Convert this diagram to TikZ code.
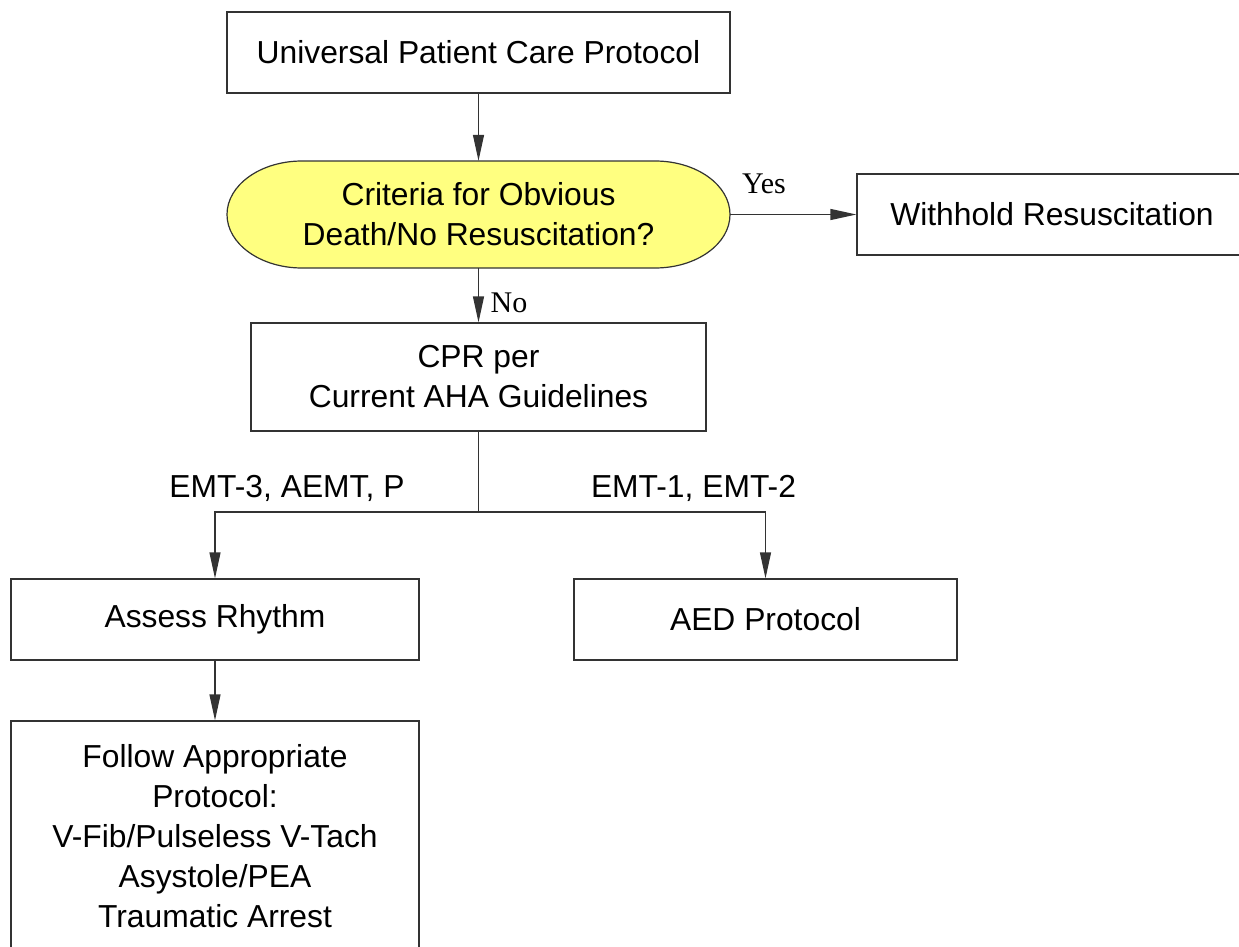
\documentclass[tikz,border=0pt]{standalone}
\usepackage{fontspec}
\setmainfont{Liberation Sans}
\newfontfamily\labelserif{Liberation Serif}
\usetikzlibrary{arrows.meta,backgrounds}

\definecolor{lineclr}{HTML}{333333}
\definecolor{decisionfill}{HTML}{FFFF80}

\tikzset{
  procbox/.style={draw=lineclr, line width=1.2pt, inner sep=0pt,
    align=center, font=\fontsize{31.8}{40}\selectfont},
  flow/.style={draw=lineclr, line width=1.2pt,
    -{Triangle[length=26pt,width=11pt]}},
  plainline/.style={draw=lineclr, line width=1.2pt},
  branchlabel/.style={anchor=base, inner sep=0pt,
    font=\fontsize{31.8}{40}\selectfont},
  answer/.style={anchor=base, inner sep=0pt,
    font=\labelserif\fontsize{30}{34}\selectfont},
}

\begin{document}
\begin{tikzpicture}[x=1pt, y=-1pt]
  \useasboundingbox (0,0) rectangle (1239,947);
  \clip (0,0) rectangle (1239,947);

  % process boxes
  \node[procbox, minimum width=503pt, minimum height=81pt]
    (start) at (478.5,52.5) {Universal Patient Care Protocol};
  \node[inner sep=0pt, align=center, font=\fontsize{31.8}{40}\selectfont,
        minimum width=503pt, minimum height=107pt]
    (decide) at (478.5,214.5) {Criteria for Obvious\\Death/No Resuscitation?};
  \node[procbox, minimum width=390pt, minimum height=81pt]
    (withhold) at (1052,214.5) {Withhold Resuscitation};
  \node[procbox, minimum width=455pt, minimum height=108pt]
    (cpr) at (478.5,377) {CPR per\\Current AHA Guidelines};
  \node[procbox, minimum width=408pt, minimum height=81pt]
    (assess) at (215,619.5) {Assess Rhythm};
  \node[procbox, minimum width=383pt, minimum height=81pt]
    (aed) at (765.5,619.5) {AED Protocol};
  \node[procbox, minimum width=408pt, minimum height=230pt]
    (follow) at (215,836) {Follow Appropriate\\Protocol:\\V-Fib/Pulseless V-Tach\\Asystole/PEA\\Traumatic Arrest};

  % decision outline with elliptical ends
  \begin{scope}[on background layer]
    \filldraw[fill=decisionfill, draw=lineclr, line width=1.2pt]
      (302,161) -- (655,161)
      arc[start angle=90, end angle=-90, x radius=75pt, y radius=53.5pt]
      -- (302,268)
      arc[start angle=270, end angle=90, x radius=75pt, y radius=53.5pt]
      -- cycle;
  \end{scope}

  % connectors
  \coordinate (split) at (478.5,512);
  \draw[flow] (start.south) -- (decide.north);
  \draw[flow] (decide.east) -- (withhold.west);
  \draw[flow] (decide.south) -- (cpr.north);
  \draw[plainline] (cpr.south) -- (split);
  \draw[flow] (split) -| (assess.north);
  \draw[flow] (split) -| (aed.north);
  \draw[flow] (assess.south) -- (follow.north);

  % connector labels
  \node[answer] (yes) at (764,193) {Yes};
  \node[answer] (no) at (509,312) {No};
  \node[branchlabel] (advanced) at (287,497) {EMT-3, AEMT, P};
  \node[branchlabel] (basic) at (693.5,497) {EMT-1, EMT-2};
\end{tikzpicture}
\end{document}
